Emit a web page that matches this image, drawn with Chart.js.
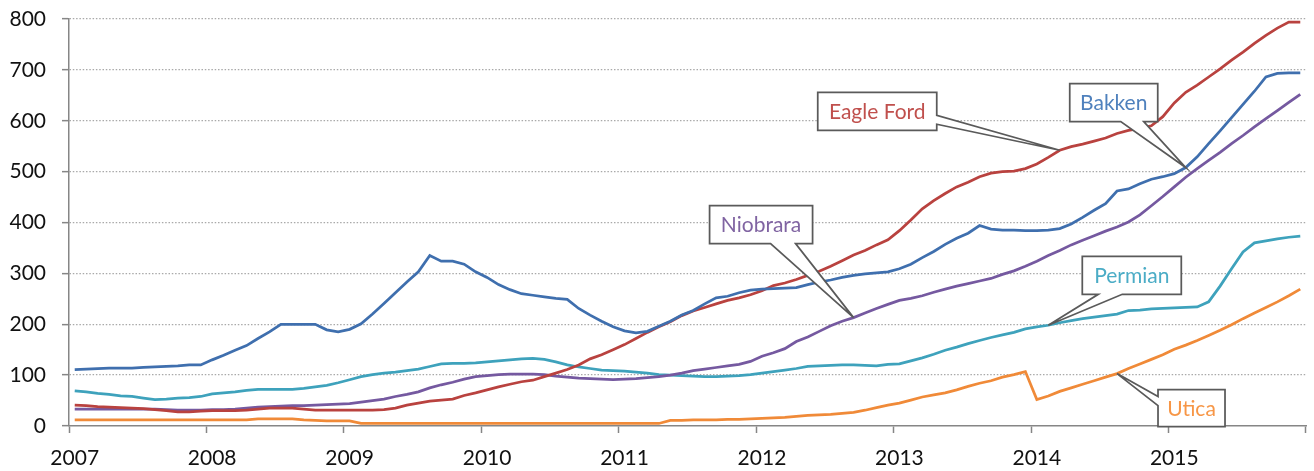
<!DOCTYPE html>
<html>
<head>
<meta charset="utf-8">
<script src="https://cdn.jsdelivr.net/npm/chart.js@4.4.1/dist/chart.umd.min.js"></script>
<style>
html,body{margin:0;padding:0;background:#ffffff;}
canvas{display:block;}
</style>
</head>
<body>
<canvas id="c" width="1314" height="471"></canvas>
<script>
// ---- tick labels / categories ----
const years = ['2007','2008','2009','2010','2011','2012','2013','2014','2015'];
const monthNames = ['Jan','Feb','Mar','Apr','May','Jun','Jul','Aug','Sep','Oct','Nov','Dec'];
const yTicks = [0,100,200,300,400,500,600,700,800];

// ---- series values (monthly, Jan 2007 - Dec 2015) ----
const bakken = [
 111,112,113,114,114,114,115,116,117,118,120,120,
 130,139,149,158,172,185,200,200,200,200,189,185,
 190,201,220,241,262,283,303,335,324,324,318,303,
 292,278,268,260,257,254,251,249,231,218,206,195,
 187,183,186,196,206,218,227,240,252,255,262,267,
 269,270,271,272,278,283,287,292,296,299,301,303,
 309,318,331,343,357,369,379,394,387,385,385,384,
 384,385,388,397,410,424,437,462,466,476,485,490,
 496,508,529,555,580,606,632,658,686,693,694,694
];
const eagleFord = [
 41,40,38,37,36,35,34,32,30,28,28,29,
 30,30,30,31,33,35,35,35,33,31,31,31,
 31,31,31,32,35,41,45,49,51,53,60,65,
 71,77,82,87,90,97,104,111,120,132,140,150,
 160,172,184,195,205,217,226,233,240,247,252,258,
 266,276,281,288,296,304,314,325,336,345,356,366,
 384,405,427,443,457,470,479,490,497,500,501,506,
 515,528,542,549,554,560,566,575,581,585,590,608,
 635,656,670,686,702,719,735,752,768,782,794,794
];
const niobrara = [
 33,33,33,33,33,33,33,33,32,31,31,31,
 32,32,33,35,37,38,39,40,40,41,42,43,
 44,47,50,53,58,62,67,75,81,86,92,97,
 99,101,102,102,102,101,98,96,94,93,92,91,
 92,93,95,97,100,104,109,112,115,118,121,127,
 137,144,152,166,175,186,197,206,213,222,231,239,
 247,251,256,263,269,275,280,285,290,298,305,314,
 324,335,345,356,365,374,383,391,401,415,433,451,
 470,489,506,522,538,555,571,588,604,620,636,652
];
const permian = [
 69,67,64,62,59,58,55,52,53,55,56,58,
 63,65,67,70,72,72,72,72,74,77,80,85,
 91,97,101,104,106,109,112,117,122,123,123,124,
 126,128,130,132,133,131,126,120,116,113,110,109,
 108,106,104,101,100,99,98,97,97,98,99,101,
 104,107,110,113,117,118,119,120,120,119,118,121,
 122,128,134,141,149,155,162,168,174,179,184,191,
 195,198,203,207,211,214,217,220,227,228,230,231,
 232,233,234,244,275,309,342,360,364,368,371,373
];
const utica = [
 12,12,12,12,12,12,12,12,12,12,12,12,
 12,12,12,12,14,14,14,14,12,11,10,10,
 10,5,5,5,5,5,5,5,5,5,5,5,
 5,5,5,5,5,5,5,5,5,5,5,5,
 5,5,5,5,11,11,12,12,12,13,13,14,
 15,16,17,19,21,22,23,25,27,31,36,41,
 45,51,57,61,65,71,78,84,89,96,101,107,
 52,59,68,75,82,89,96,103,113,122,131,140,
 151,159,168,178,188,199,211,222,233,244,256,269
];

const seriesNames = ['Bakken','Eagle Ford','Niobrara','Permian','Utica'];
const seriesValues = [bakken, eagleFord, niobrara, permian, utica];
const lineColors = ['#3F6FAE','#B9423F','#7559A0','#3EA2BC','#F08A38'];
const labelColors = ['#4F81BD','#C0504D','#8064A2','#4BACC6','#F79646'];

// month categories built from the year labels
const categories = [];
years.forEach(yr => monthNames.forEach(m => categories.push(m + ' ' + yr)));

// ---- callout annotations (anchored on a data point) ----
const callouts = [
  {series:'Eagle Ford', index:86, dx:-242, dy:-58, w:119, h:38, side:'right',  b1:23, b2:32},
  {series:'Bakken',     index:97, dx:-116, dy:-84, w:88,  h:38, side:'bottom', b1:51, b2:74},
  {series:'Niobrara',   index:68, dx:-144, dy:-112,w:103, h:38, side:'bottom', b1:61, b2:86},
  {series:'Permian',    index:85, dx:34,   dy:-69, w:99,  h:38, side:'bottom', b1:16, b2:40},
  {series:'Utica',      index:91, dx:41,   dy:16,  w:67,  h:37, side:'left',   b1:7,  b2:16}
];

const FONT = 'Lato, "Open Sans", "DejaVu Sans", sans-serif';
const AXIS = '#868686';

const calloutPlugin = {
  id: 'callouts',
  afterDatasetsDraw(chart) {
    const {ctx} = chart;
    const xs = chart.scales.x, ys = chart.scales.y;
    callouts.forEach(c => {
      const si = seriesNames.indexOf(c.series);
      const ax = xs.getPixelForValue(c.index);
      const ay = ys.getPixelForValue(seriesValues[si][c.index]);
      const L = ax + c.dx, T = ay + c.dy, R = L + c.w, B = T + c.h;
      ctx.save();
      ctx.beginPath();
      if (c.side === 'right') {
        ctx.moveTo(L,T); ctx.lineTo(R,T); ctx.lineTo(R,T+c.b1); ctx.lineTo(ax,ay);
        ctx.lineTo(R,T+c.b2); ctx.lineTo(R,B); ctx.lineTo(L,B); ctx.closePath();
      } else if (c.side === 'bottom') {
        ctx.moveTo(L,T); ctx.lineTo(R,T); ctx.lineTo(R,B); ctx.lineTo(L+c.b2,B);
        ctx.lineTo(ax,ay); ctx.lineTo(L+c.b1,B); ctx.lineTo(L,B); ctx.closePath();
      } else {
        ctx.moveTo(L,T); ctx.lineTo(R,T); ctx.lineTo(R,B); ctx.lineTo(L,B);
        ctx.lineTo(L,T+c.b2); ctx.lineTo(ax,ay); ctx.lineTo(L,T+c.b1); ctx.closePath();
      }
      ctx.fillStyle = '#ffffff';
      ctx.fill();
      ctx.lineWidth = 1.75;
      ctx.strokeStyle = '#5a5a5a';
      ctx.lineJoin = 'miter';
      ctx.stroke();
      ctx.fillStyle = labelColors[si];
      ctx.font = '21px ' + FONT;
      ctx.textAlign = 'center';
      ctx.textBaseline = 'middle';
      ctx.fillText(c.series, (L+R)/2, (T+B)/2 + 1);
      ctx.restore();
    });
  }
};

new Chart(document.getElementById('c'), {
  type: 'line',
  data: {
    labels: categories,
    datasets: seriesNames.map((name, i) => ({
      label: name,
      data: seriesValues[i],
      borderColor: lineColors[i],
      backgroundColor: lineColors[i],
      borderWidth: 2.75,
      pointRadius: 0,
      tension: 0,
      fill: false
    }))
  },
  options: {
    responsive: false,
    animation: false,
    layout: { padding: { top: 19, right: 8, left: 0, bottom: 0 } },
    plugins: { legend: { display: false }, tooltip: { enabled: false } },
    scales: {
      x: {
        type: 'category',
        offset: true,
        afterFit(s) { s.height = 45; },
        grid: {
          offset: true,
          drawOnChartArea: false,
          drawTicks: true,
          tickLength: 7,
          tickWidth: 1.5,
          tickColor: (ctx) => (ctx.index === undefined || ctx.index % 12 === 0) ? AXIS : 'rgba(0,0,0,0)'
        },
        border: { color: AXIS, width: 1.5 },
        ticks: {
          autoSkip: false,
          maxRotation: 0,
          minRotation: 0,
          padding: 13,
          color: '#111111',
          font: { family: FONT, size: 21 },
          callback: (v, i) => (i % 12 === 0 ? years[i / 12] : '')
        }
      },
      y: {
        min: yTicks[0],
        max: yTicks[yTicks.length - 1],
        afterFit(s) { s.width = 69; s.paddingTop = 0; s.paddingBottom = 0; },
        afterBuildTicks(s) { s.ticks = yTicks.map(v => ({ value: v })); },
        grid: {
          color: (ctx) => (ctx.tick && ctx.tick.value === 0) ? 'rgba(0,0,0,0)' : '#a9a9a9',
          lineWidth: 1.3,
          tickLength: 7,
          tickColor: AXIS,
          tickWidth: 1.5
        },
        border: { color: AXIS, width: 1.5, dash: [1.5, 1.8] },
        ticks: {
          padding: 16,
          color: '#111111',
          font: { family: FONT, size: 21 }
        }
      }
    }
  },
  plugins: [calloutPlugin]
});
</script>
</body>
</html>
